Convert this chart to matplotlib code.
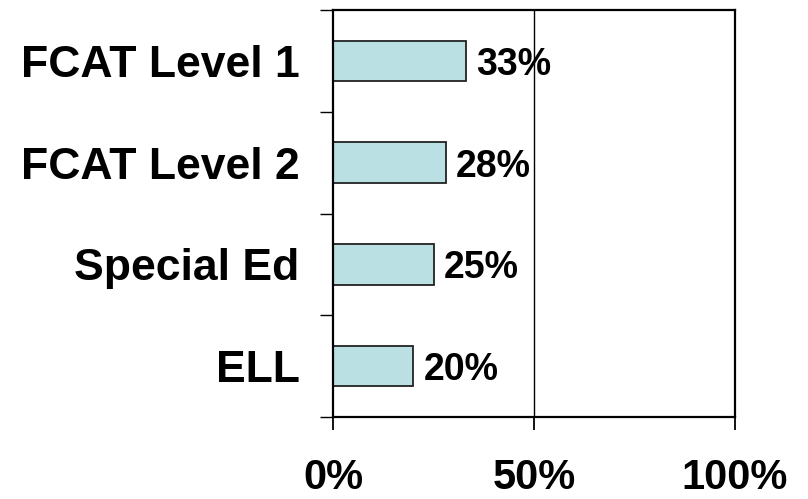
import numpy as np
import matplotlib.pyplot as plt

categories = ["FCAT Level 1", "FCAT Level 2", "Special Ed", "ELL"]
values = [33, 28, 25, 20]
xtick_vals = [0, 50, 100]
xtick_labels = ["0%", "50%", "100%"]

plt.rcParams['font.family'] = ['Liberation Sans', 'DejaVu Sans']
plt.rcParams['font.weight'] = 'bold'

fig = plt.figure(figsize=(8.08, 4.99), dpi=100)
ax = fig.add_axes([333 / 808, 82 / 499, 402 / 808, 407 / 499])

y = np.arange(len(categories))
ax.barh(y, values, height=0.4, color="#BBE0E3", edgecolor="#222222", linewidth=1.3, zorder=2)
for yi, v in zip(y, values):
    ax.text(v + 2.5, yi + 0.04, f"{v}%", va="center", ha="left", fontsize=27, fontweight="bold", zorder=3)

ax.set_xlim(0, 100)
ax.set_ylim(len(categories) - 0.5, -0.5)

ax.set_xticks(xtick_vals)
ax.set_xticklabels(xtick_labels, fontsize=30, fontweight="bold")
ax.tick_params(axis="x", direction="out", length=9.5, width=1.3, pad=20)
ax.axvline(50, color="black", linewidth=1.0, zorder=1)

# category boundaries as ticks, names on minor ticks
ax.set_yticks(np.arange(-0.5, len(categories), 1.0))
ax.set_yticklabels([])
ax.tick_params(axis="y", which="major", direction="out", length=9.5, width=1.0)
ax.set_yticks(y, minor=True)
ax.set_yticklabels(categories, minor=True, fontsize=32, fontweight="bold")
ax.tick_params(axis="y", which="minor", length=0, pad=24)

for s in ax.spines.values():
    s.set_linewidth(1.6)
    s.set_color("black")

fig.savefig("out.png", dpi=100)
